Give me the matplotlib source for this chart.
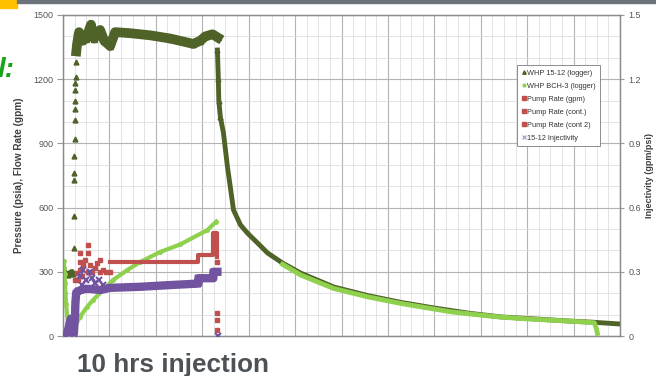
import numpy as np
import matplotlib.pyplot as plt
from matplotlib.patches import Rectangle
from matplotlib.ticker import MultipleLocator

plt.rcParams['font.family'] = ['Liberation Sans', 'DejaVu Sans']

# WHP 15-12 (logger), injection period (hours, psia)
whp_low_hr = [0.10, 0.20, 0.30, 0.45, 0.58, 0.66]
whp_low_psi = [300, 290, 285, 295, 300, 290]
whp_rise_hr = [0.70, 0.71, 0.72, 0.73, 0.74, 0.75, 0.76, 0.77, 0.78, 0.79, 0.80, 0.81, 0.82, 0.83]
whp_rise_psi = [410, 560, 730, 760, 840, 920, 1010, 1060, 1100, 1150, 1180, 1210, 1280, 1420]
whp_hr = [0.86, 0.91, 1.04, 1.23, 1.49, 1.81, 2.01, 2.40, 2.66, 3.05, 3.37,
          4.34, 5.64, 6.93, 8.42, 8.88, 9.20, 9.66, 10.0]
whp_psi = [1330, 1365, 1420, 1380, 1390, 1455, 1390, 1430, 1380, 1355, 1420,
           1415, 1405, 1390, 1365, 1380, 1400, 1410, 1395]
# WHP 15-12 fall-off
fall_hr = [9.98, 10.04, 10.07, 10.17, 10.37, 10.63, 10.93, 11.02, 11.47, 11.92, 12.57,
           13.22, 14.19, 15.36, 17.50, 19.70, 21.84, 23.98, 26.18, 28.32, 30.46, 32.66,
           34.34, 36.0]
fall_psi = [1336, 1200, 1100, 1023, 949, 790, 636, 589, 519, 481, 435,
            388, 341, 294, 229, 189, 157, 131, 107, 89, 80, 70,
            64, 56]

# WHP BCH-3 (logger)
bch_hr = [0.05, 0.08, 0.10, 0.13, 0.16, 0.20, 0.26, 0.32, 0.45, 0.58, 0.65, 1.10, 1.56,
          1.94, 2.59, 3.24, 4.15, 4.99, 6.29, 7.58, 9.33, 9.91]
bch_psi = [350, 320, 290, 250, 200, 150, 100, 60, 40, 25, 28, 90, 136,
           168, 215, 262, 308, 346, 393, 428, 495, 535]
bch_fall_hr = [14.19, 15.36, 17.50, 19.70, 21.84, 23.98, 25.08, 26.18, 28.32, 30.46,
               32.66, 34.34, 34.47, 34.54]
bch_fall_psi = [335, 285, 222, 183, 152, 126, 113, 104, 88, 78, 70, 62, 35, 12]

# Pump rates (gpm)
pump_hr = [0.65, 0.65, 0.78, 0.78, 0.78, 0.91, 1.10, 1.10, 1.10, 1.30, 1.43, 1.60, 1.62,
           1.62, 1.75, 1.90, 2.10, 2.40, 2.40, 2.59, 2.80, 3.05, 1.0, 1.25, 2.2]
pump_gpm = [14, 61, 121, 182, 262, 294, 308, 346, 388, 330, 355, 300, 425,
            388, 330, 300, 320, 355, 300, 308, 300, 299, 260, 280, 340]
cont_hr = [3.05, 8.75, 8.75, 9.72, 9.72, 9.98, 9.98]
cont_gpm = [346, 346, 378, 378, 481, 481, 369]
cont2_hr = [9.98, 9.98, 9.98, 9.98]
cont2_gpm = [346, 107, 75, 28]

# 15-12 injectivity (gpm/psi)
inj_hr = [0.20, 0.30, 0.40, 0.50, 0.60, 0.70, 0.78, 0.80, 0.85, 0.97, 1.43, 1.75, 2.40,
          3.05, 4.99, 6.93, 8.75, 8.75, 9.72, 9.72, 9.98]
inj_val = [0.0, 0.02, 0.05, 0.08, 0.04, 0.01, 0.10, 0.15, 0.20, 0.21, 0.22, 0.22, 0.215,
           0.225, 0.23, 0.238, 0.245, 0.27, 0.27, 0.30, 0.30]
inj_sc_hr = [1.1, 1.2, 1.3, 1.5, 1.75, 1.9, 2.1, 2.3, 2.6, 10.04]
inj_sc_val = [0.28, 0.24, 0.31, 0.26, 0.30, 0.27, 0.25, 0.26, 0.24, 0.0]

dkgreen = '#4f6228'
ltgreen = '#8fd14f'
red = '#c0504d'
purple = '#7153a0'

fig = plt.figure(figsize=(6.56, 3.76), dpi=100)
ax = fig.add_axes([63 / 656, 40 / 376, 557 / 656, 321 / 376])
ax.set_xlim(0, 36)
ax.set_ylim(0, 1500)

# grid
ax.xaxis.set_major_locator(MultipleLocator(3))
ax.xaxis.set_minor_locator(MultipleLocator(0.75))
ax.yaxis.set_major_locator(MultipleLocator(300))
ax.yaxis.set_minor_locator(MultipleLocator(100))
ax.grid(which='major', color='#b3b3b3', lw=0.8)
ax.grid(which='minor', color='#dedede', lw=0.6)
ax.set_axisbelow(True)
ax.tick_params(axis='x', which='both', length=0, labelbottom=False)
ax.tick_params(axis='y', which='minor', length=0)
ax.tick_params(axis='y', which='major', length=4.5, color='#999999', labelsize=6.5,
               labelcolor='#555555', pad=2.5)
for s in ax.spines.values():
    s.set_color('#8c8c8c')
    s.set_linewidth(0.9)

# series
ax.plot(whp_low_hr, whp_low_psi, color=dkgreen, lw=4, marker='^', ms=3.5, zorder=3)
ax.plot(whp_rise_hr, whp_rise_psi, ls='none', marker='^', ms=3.5, color=dkgreen, zorder=3)
ax.plot(whp_hr, whp_psi, color=dkgreen, lw=7, solid_joinstyle='round', zorder=3)
ax.plot(whp_hr, whp_psi, ls='none', marker='^', ms=4, color=dkgreen, zorder=3)
ax.plot(fall_hr, fall_psi, color=dkgreen, lw=3.5, zorder=3)
ax.plot(fall_hr[:4], fall_psi[:4], ls='none', marker='^', ms=3.5, color=dkgreen, zorder=3)
ax.plot(bch_hr, bch_psi, color=ltgreen, lw=3, marker='o', ms=2.5, zorder=4)
ax.plot(bch_fall_hr, bch_fall_psi, color=ltgreen, lw=3.5, zorder=4)
ax.plot(pump_hr, pump_gpm, ls='none', marker='s', ms=3.5, color=red, zorder=5)
ax.plot(cont_hr, cont_gpm, color=red, lw=3, zorder=5)
ax.plot(cont2_hr, cont2_gpm, ls='none', marker='s', ms=3.5, color=red, zorder=5)

ax.set_ylabel('Pressure (psia), Flow Rate (gpm)', fontsize=7.2, fontweight='bold',
              color='#404040')
ax.yaxis.set_label_coords(-0.070, 0.5)

ax2 = ax.twinx()
ax2.set_ylim(0, 1.5)
ax2.set_yticks([0, 0.3, 0.6, 0.9, 1.2, 1.5])
ax2.set_yticklabels(['0', '0.3', '0.6', '0.9', '1.2', '1.5'])
ax2.tick_params(axis='y', length=3, color='#999999', labelsize=6.5, labelcolor='#555555', pad=3)
for s in ax2.spines.values():
    s.set_color('#8c8c8c')
    s.set_linewidth(0.9)
ax2.plot(inj_hr, inj_val, color=purple, lw=6, zorder=6)
ax2.plot(inj_hr, inj_val, ls='none', marker='x', ms=4, mew=1.5, color=purple, zorder=6)
ax2.plot(inj_sc_hr, inj_sc_val, ls='none', marker='x', ms=4, mew=1.5, color=purple, zorder=6)
ax2.set_ylabel('Injectivity (gpm/psi)', fontsize=6.5, fontweight='bold', color='#404040')
ax2.yaxis.set_label_coords(1.045, 0.5)

# legend
h = [plt.Line2D([], [], ls='none', marker='^', ms=2.5, color=dkgreen),
     plt.Line2D([], [], ls='none', marker='o', ms=2, color=ltgreen),
     plt.Line2D([], [], ls='none', marker='s', ms=2.5, color=red),
     plt.Line2D([], [], ls='none', marker='s', ms=2.5, color=red),
     plt.Line2D([], [], ls='none', marker='s', ms=2.5, color=red),
     plt.Line2D([], [], ls='none', marker='x', ms=2.5, color='#b4a7d6')]
labels = ['WHP 15-12 (logger)', 'WHP BCH-3 (logger)', 'Pump Rate (gpm)',
          'Pump Rate (cont.)', 'Pump Rate (cont 2)', '15-12 Injectivity']
leg = ax2.legend(h, labels, loc='upper left', bbox_to_anchor=(0.815, 0.844), fontsize=5.3,
                 frameon=True, fancybox=False, edgecolor='#8c8c8c', framealpha=1,
                 handlelength=0.6, handletextpad=0.1, labelspacing=0.8, borderpad=0.6,
                 borderaxespad=0)
leg.get_frame().set_linewidth(0.7)
for t in leg.get_texts():
    t.set_color('#333333')

# slide decorations
fig.patches.append(Rectangle((0, 1 - 8 / 376), 17 / 656, 8 / 376, transform=fig.transFigure,
                             color='#ffc000', zorder=0))
fig.patches.append(Rectangle((17 / 656, 1 - 3 / 376), 1, 3 / 376, transform=fig.transFigure,
                             color='#6d737a', zorder=0))
fig.text(-0.004, 1 - 77 / 376, 'l:', fontsize=20, fontweight='bold', fontstyle='italic',
         color='#1aa31a', ha='left', va='baseline')
fig.text(77 / 656, 1 - 372 / 376, '10 hrs injection', fontsize=18.8, fontweight='bold',
         color='#4d5257', ha='left', va='baseline')

fig.savefig('out.png', dpi=100)
